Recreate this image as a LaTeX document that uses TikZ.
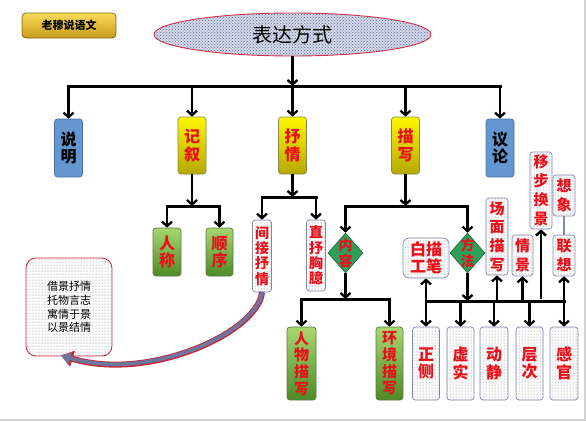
\documentclass[tikz,border=0pt]{standalone}
\usepackage{fontspec}
\newfontfamily\cjk{Noto Sans CJK SC}
\usetikzlibrary{arrows.meta,patterns,shapes.geometric,calc}
\definecolor{yTop}{HTML}{FFF600}
\definecolor{yBot}{HTML}{B4A800}
\definecolor{yEdge}{HTML}{8A8A50}
\definecolor{gTop}{HTML}{A8D670}
\definecolor{gBot}{HTML}{4E8A28}
\definecolor{gEdge}{HTML}{5C7A48}
\definecolor{bFill}{HTML}{6497D0}
\definecolor{bEdge}{HTML}{4A72A8}
\definecolor{txtRed}{HTML}{E8101A}
\definecolor{dEdge}{HTML}{7F8AA8}
\definecolor{dotCol}{HTML}{707070}
\definecolor{dmFill}{HTML}{2E9E5A}
\definecolor{dmEdge}{HTML}{2A6A40}
\definecolor{goldTop}{HTML}{FADC58}
\definecolor{goldBot}{HTML}{C89A18}
\definecolor{goldEdge}{HTML}{7A6420}
\definecolor{ellFill}{HTML}{D4D9E8}
\definecolor{ellPat}{HTML}{56689A}
\definecolor{ellEdge}{HTML}{D03048}
\definecolor{curveRed}{HTML}{C8283C}
\definecolor{slate}{HTML}{6A789E}
\begin{document}
\begin{tikzpicture}[x=1pt,y=-1pt,
  basebox/.style={rounded corners=3pt, inner sep=0pt, align=center,
    font=\cjk\bfseries\fontsize{16}{17.5}\selectfont, line width=0.7pt},
  bbox/.style={basebox, fill=bFill, draw=bEdge, text=black, minimum width=28pt, minimum height=58pt},
  ybox/.style={basebox, top color=yTop, bottom color=yBot, draw=yEdge, text=txtRed, minimum width=28pt, minimum height=57pt},
  gbox/.style={basebox, top color=gTop, bottom color=gBot, draw=gEdge, text=txtRed},
  dbox/.style={basebox, preaction={fill=white}, pattern=dots, pattern color=dotCol, draw=dEdge, text=txtRed},
  dm/.style={diamond, fill=dmFill, draw=dmEdge, line width=0.7pt, minimum width=35pt, minimum height=40pt, inner sep=0pt},
  dmtext/.style={font=\cjk\bfseries\fontsize{14}{16}\selectfont, text=txtRed, align=center},
  arr/.style={line width=2.3pt, -{Straight Barb[length=4.5pt,width=10pt]}},
  barline/.style={line width=3pt, line cap=rect}]
\useasboundingbox (0,0) rectangle (586,421);
\fill[white] (0,0) rectangle (586,421);
\fill[gray!35] (0,418.5) rectangle (586,421);
\fill[gray!35] (584,0) rectangle (586,421);

% top
\node[rounded corners=4pt, top color=goldTop, bottom color=goldBot, draw=goldEdge, line width=0.8pt,
  minimum width=94pt, minimum height=25pt, inner sep=0pt, font=\cjk\bfseries\fontsize{11}{12}\selectfont] (btn) at (69,25.5) {老穆说语文};
\node[ellipse, preaction={fill=ellFill}, pattern=crosshatch dots, pattern color=ellPat, draw=ellEdge, line width=0.9pt,
  minimum width=277pt, minimum height=43pt, inner sep=0pt, font=\cjk\fontsize{20}{22}\selectfont] (top) at (292.5,34.5) {表达方式};

% level 1
\node[bbox] (sm) at (68.5,148) {说\\明};
\node[ybox] (jx) at (192,145.5) {记\\叙};
\node[ybox] (sq) at (292.5,145.5) {抒\\情};
\node[ybox] (mx) at (405.5,145.5) {描\\写};
\node[bbox] (yl) at (500,148) {议\\论};

\coordinate (b0) at (292.5,86);
\draw[arr] (top.south) -- (b0);
\draw[barline] (sm |- b0) -- (yl |- b0);
\foreach \n in {sm,jx,sq,mx,yl} \draw[arr] (\n |- b0) -- (\n.north);

% narration
\node[gbox, minimum width=28pt, minimum height=48pt] (rc) at (167,252) {人\\称};
\node[gbox, minimum width=27pt, minimum height=48pt] (sx) at (219.5,252) {顺\\序};
\coordinate (b1) at (192,206);
\draw[arr] (jx.south) -- (b1);
\draw[barline] (rc |- b1) -- (sx |- b1);
\foreach \n in {rc,sx} \draw[arr] (\n |- b1) -- (\n.north);

% lyric
\node[dbox, minimum width=19pt, minimum height=72pt, font=\cjk\bfseries\fontsize{14}{15.3}\selectfont] (jj) at (262,256) {间\\接\\抒\\情};
\node[dbox, minimum width=19pt, minimum height=71pt, font=\cjk\bfseries\fontsize{14}{15.3}\selectfont] (zs) at (316,255.5) {直\\抒\\胸\\臆};
\coordinate (b2) at (292.5,197);
\draw[arr] (sq.south) -- (b2);
\draw[barline] (jj |- b2) -- (zs |- b2);
\foreach \n in {jj,zs} \draw[arr] (\n |- b2) -- (\n.north);

% description
\node[dm, label={[dmtext]center:内\\容}] (nr) at (345.5,253) {};
\node[dm, label={[dmtext]center:方\\法}] (ff) at (467.5,253) {};
\coordinate (b3) at (405.5,206);
\draw[arr] (mx.south) -- (b3);
\draw[barline] (nr |- b3) -- (ff |- b3);
\foreach \n in {nr,ff} \draw[arr] (\n |- b3) -- (\n.north);

% content
\node[gbox, minimum width=29pt, minimum height=73pt, font=\cjk\bfseries\fontsize{15}{16.7}\selectfont] (rw) at (301.5,363.5) {人\\物\\描\\写};
\node[gbox, minimum width=27pt, minimum height=73pt, font=\cjk\bfseries\fontsize{15}{16.7}\selectfont] (hj) at (389.5,363.5) {环\\境\\描\\写};
\coordinate (b4) at (345.5,299);
\draw[arr] (nr.south) -- (b4);
\draw[barline] (rw |- b4) -- (hj |- b4);
\foreach \n in {rw,hj} \draw[arr] (\n |- b4) -- (\n.north);

% method
\node[dbox, minimum width=27pt, minimum height=73pt] (zc) at (426,363.5) {正\\侧};
\node[dbox, minimum width=27pt, minimum height=73pt] (xs) at (460.5,363.5) {虚\\实};
\node[dbox, minimum width=28pt, minimum height=73pt] (dj) at (494,363.5) {动\\静};
\node[dbox, minimum width=27pt, minimum height=73pt] (cc) at (529.5,363.5) {层\\次};
\node[dbox, minimum width=28pt, minimum height=73pt] (gg) at (564,363.5) {感\\官};

\node[dbox, rounded corners=6pt, minimum width=46pt, minimum height=40pt] (bm) at (426,258) {白描\\工笔};
\node[dbox, minimum width=22pt, minimum height=77pt, font=\cjk\bfseries\fontsize{15}{18.7}\selectfont] (cm) at (497,236.5) {场\\面\\描\\写};
\node[dbox, minimum width=21pt, minimum height=41pt, font=\cjk\bfseries\fontsize{15}{18.5}\selectfont] (qj) at (522.5,255.5) {情\\景};
\node[dbox, minimum width=22pt, minimum height=77pt, font=\cjk\bfseries\fontsize{15}{19}\selectfont] (yb) at (541,190.5) {移\\步\\换\\景};
\node[dbox, minimum width=22pt, minimum height=41pt, font=\cjk\bfseries\fontsize{15}{18.5}\selectfont] (xx) at (564,195.5) {想\\象};
\node[dbox, minimum width=22pt, minimum height=41pt, font=\cjk\bfseries\fontsize{15}{18.5}\selectfont] (lx) at (564,255.5) {联\\想};
\draw[line width=1.6pt, dEdge] (xx.south) -- (lx.north);

\coordinate (b5) at (467.5,301);
\draw[arr] (ff.south) -- (b5);
\draw[barline] (zc |- b5) -- (gg |- b5);
\foreach \n in {zc,xs,dj,cc,gg} \draw[arr] (\n |- b5) -- (\n.north);
\foreach \n in {bm,cm,qj,lx} \draw[arr] (\n |- b5) -- (\n.south);
\draw[arr, line width=2.6pt] ([yshift=2pt]yb |- b5) -- (yb.south);

% left note
\node[rounded corners=10pt, preaction={fill=white}, pattern=dots, pattern color=dotCol, draw=curveRed, line width=0.8pt,
  minimum width=86pt, minimum height=98pt, inner sep=0pt, align=center,
  font=\cjk\fontsize{11}{13.7}\selectfont] (jg) at (69,307) {借景抒情\\托物言志\\寓情于景\\以景结情};

\draw[line width=6pt, curveRed, -{Triangle[length=12pt,width=16pt]}]
  (jj.south) .. controls (258,332) and (150,382) .. ([xshift=-8pt,yshift=1pt]jg.south);
\draw[line width=3.6pt, slate, -{Triangle[length=9.5pt,width=11pt]}]
  ([yshift=0.8pt]jj.south) .. controls (258,332) and (150,382) .. ([xshift=-8pt,yshift=1pt]jg.south);
\end{tikzpicture}
\end{document}
